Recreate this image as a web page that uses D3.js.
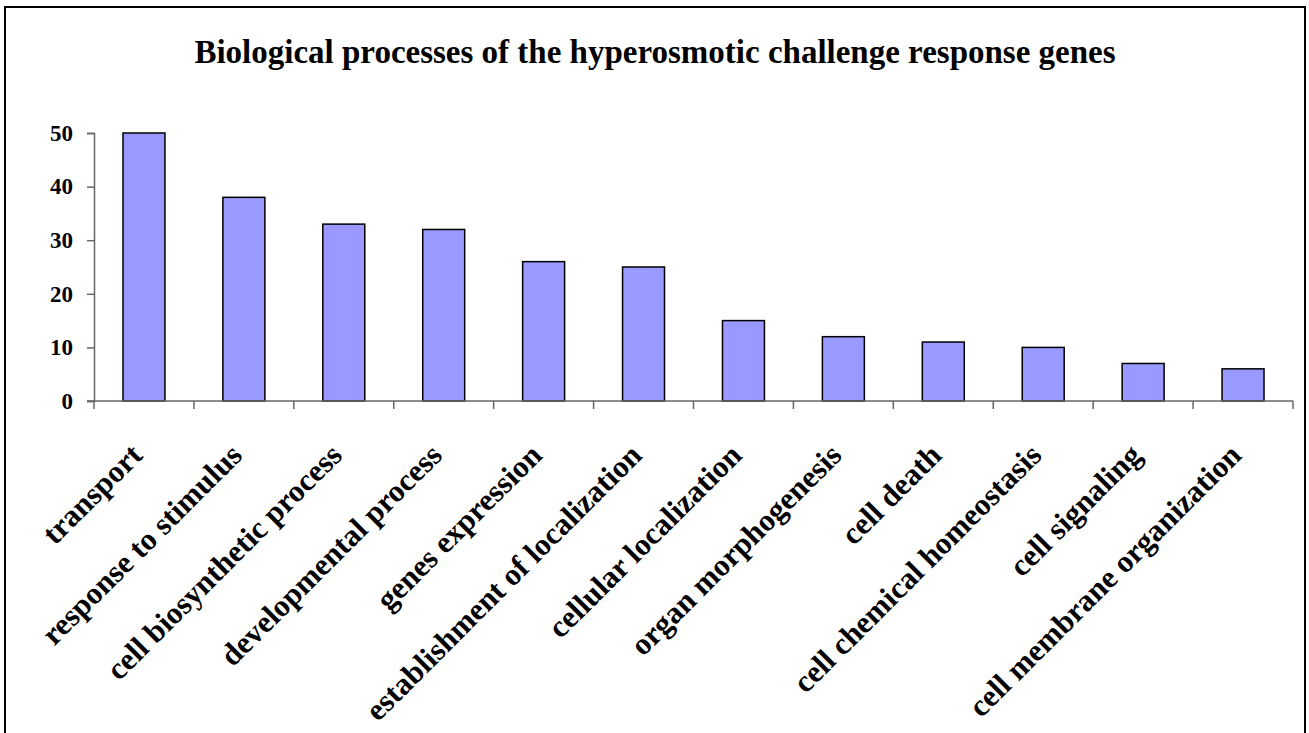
<!DOCTYPE html>
<html>
<head>
<meta charset="utf-8">
<script src="https://cdn.jsdelivr.net/npm/d3@7"></script>
<style>
  body { margin: 0; background: #fff; }
  text { font-family: "Liberation Serif", "Times New Roman", serif; font-weight: bold; }
</style>
</head>
<body>
<script>
// chart data
var categories = ["transport", "response to stimulus", "cell biosynthetic process",
    "developmental process", "genes expression", "establishment of localization",
    "cellular localization", "organ morphogenesis", "cell death",
    "cell chemical homeostasis", "cell signaling", "cell membrane organization"];
var counts = [50, 38, 33, 32, 26, 25, 15, 12, 11, 10, 7, 6];
var yTicks = [0, 10, 20, 30, 40, 50];
var chartTitle = "Biological processes of the hyperosmotic challenge response genes";

// page size and plot area
var svgWidth = 1309;
var svgHeight = 733;
var plot = { left: 94, right: 1293, top: 133, bottom: 401 };

var svg = d3.select("body")
    .append("svg")
    .attr("width", svgWidth)
    .attr("height", svgHeight);

// outer frame (bottom edge falls off the picture)
svg.append("rect")
    .attr("x", 5).attr("y", 7)
    .attr("width", 1300).attr("height", 740)
    .attr("fill", "none")
    .attr("stroke", "#000")
    .attr("stroke-width", 2);

svg.append("text")
    .attr("x", 655)
    .attr("y", 63)
    .attr("text-anchor", "middle")
    .style("font-size", "33px")
    .text(chartTitle);

var xScale = d3.scaleBand()
    .domain(categories)
    .range([plot.left, plot.right])
    .paddingInner(0.58)
    .paddingOuter(0.29);

var xBand = d3.scaleBand()
    .domain(categories)
    .range([plot.left, plot.right]);

var yScale = d3.scaleLinear()
    .domain([0, 50])
    .range([plot.bottom, plot.top]);

// bars
svg.selectAll(".bar")
    .data(counts)
    .enter()
    .append("rect")
    .classed("bar", true)
    .attr("x", (d, i) => xScale(categories[i]))
    .attr("y", d => yScale(d))
    .attr("width", xScale.bandwidth())
    .attr("height", d => plot.bottom - yScale(d))
    .attr("fill", "#9999ff")
    .attr("stroke", "#000")
    .attr("stroke-width", 1.5);

// y axis
var yAxis = svg.append("g")
    .attr("transform", `translate(${plot.left},0)`)
    .call(d3.axisLeft(yScale).tickValues(yTicks).tickSize(7).tickPadding(14));
yAxis.select(".domain").attr("stroke", "#666").attr("stroke-width", 1.5);
yAxis.selectAll(".tick line").attr("stroke", "#666").attr("stroke-width", 1.5);
yAxis.selectAll(".tick text")
    .attr("fill", "#000")
    .style("font-size", "23px")
    .style("font-family", "Liberation Serif, serif");

// x axis line and category separators
var xAxisG = svg.append("g");
xAxisG.append("line")
    .attr("x1", plot.left - 7).attr("x2", plot.right)
    .attr("y1", plot.bottom).attr("y2", plot.bottom)
    .attr("stroke", "#666").attr("stroke-width", 1.5);
xAxisG.selectAll(".sep")
    .data(categories.concat(["end"]))
    .enter()
    .append("line")
    .attr("x1", (d, i) => plot.left + i * xBand.bandwidth())
    .attr("x2", (d, i) => plot.left + i * xBand.bandwidth())
    .attr("y1", plot.bottom)
    .attr("y2", plot.bottom + 8)
    .attr("stroke", "#666").attr("stroke-width", 1.5);

// rotated category labels
svg.selectAll(".cat")
    .data(categories)
    .enter()
    .append("text")
    .attr("text-anchor", "end")
    .style("font-size", "31px")
    .attr("transform", d => `translate(${xBand(d) + xBand.bandwidth() / 2},457) rotate(-45)`)
    .text(d => d);
</script>
</body>
</html>
